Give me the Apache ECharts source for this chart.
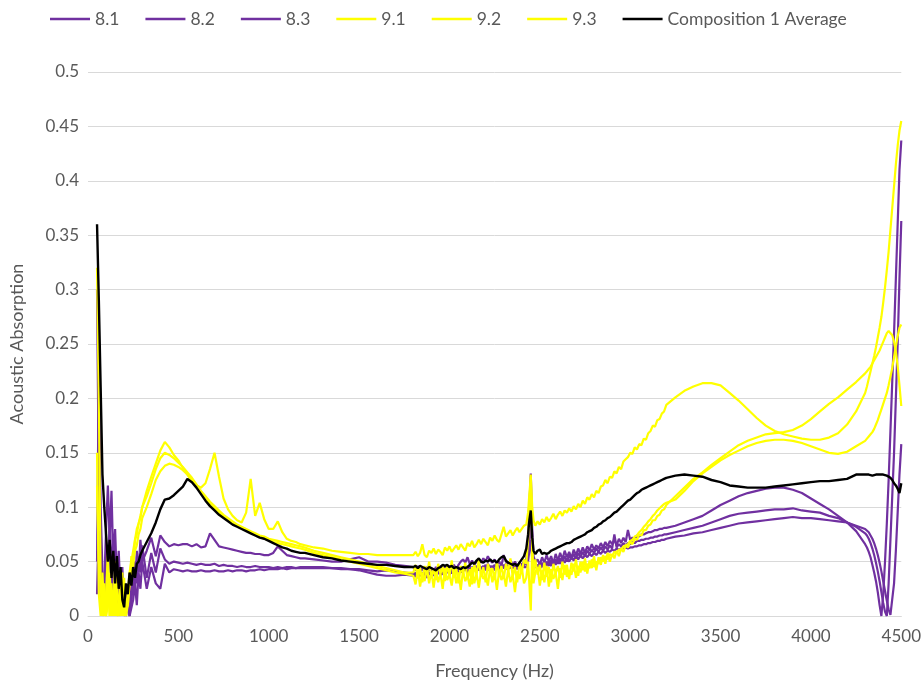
<!DOCTYPE html>
<html>
<head>
<meta charset="utf-8">
<script src="https://cdn.jsdelivr.net/npm/echarts@6/dist/echarts.min.js"></script>
<style>
html, body { margin: 0; padding: 0; background: #ffffff; }
#chart { width: 924px; height: 688px; }
</style>
</head>
<body>
<div id="chart"></div>
<script>
// Frequency grid (Hz) shared by every measurement
const freq = [
  50,60,70,80,90,100,110,120,130,140,150,160,170,180,190,200,210,220,230,240,250,260,270,280,290,300,
  325,350,375,400,425,450,475,500,525,550,575,600,625,650,675,700,725,750,775,800,825,850,875,900,925,950,975,1000,1025,1050,1075,1100,1125,1150,1175,1200,
  1250,1300,1350,1400,1450,1500,1550,1600,1650,1700,1750,
  1800,1812.5,1825,1837.5,1850,1862.5,1875,1887.5,1900,1912.5,
  1925,1937.5,1950,1962.5,1975,1987.5,2000,2012.5,2025,2037.5,
  2050,2062.5,2075,2087.5,2100,2112.5,2125,2137.5,2150,2162.5,
  2175,2187.5,2200,2212.5,2225,2237.5,2250,2262.5,2275,2287.5,
  2300,2312.5,2325,2337.5,2350,2362.5,2375,2387.5,2400,2412.5,
  2425,2435,2442,2450,2458,2465,2475,
  2487.5,2500,2512.5,2525,2537.5,2550,2562.5,2575,2587.5,2600,
  2612.5,2625,2637.5,2650,2662.5,2675,2687.5,2700,2712.5,2725,
  2737.5,2750,2762.5,2775,2787.5,2800,2812.5,2825,2837.5,2850,
  2862.5,2875,2887.5,2900,2912.5,2925,2937.5,2950,2962.5,2975,
  2987.5,3000,3012.5,3025,3037.5,3050,3062.5,3075,3087.5,3100,
  3112.5,3125,3137.5,3150,3162.5,3175,3187.5,3200,
  3250,3300,3350,3400,3450,3500,3550,3600,3650,3700,3750,3800,3850,3900,3950,4000,4050,4100,4150,4200,4250,4300,
  4310,4320,4330,4340,4350,4360,4370,4380,4390,4400,4410,4420,4430,4440,4450,4460,4470,4480,4490,4500
];

// Absorption coefficients, sample 8.1
const s81 = [
  0.30,0.12,0.05,0.01,0.03,0.08,0.12,0.07,0.115,0.05,0.08,0.03,0.06,0.02,0.045,0.0,0.02,0.005,0.03,0.01,0.045,0.025,0.06,0.04,0.07,0.05,
  0.06,0.072,0.055,0.074,0.068,0.064,0.066,0.065,0.066,0.066,0.064,0.066,0.063,0.064,0.076,0.07,0.064,0.063,0.062,0.061,0.06,0.059,0.058,0.058,0.057,0.057,0.056,0.056,0.058,0.064,0.06,0.056,0.055,0.054,0.053,0.053,
  0.052,0.051,0.05,0.05,0.052,0.054,0.05,0.05,0.049,0.047,0.046,
  0.045,0.042,0.046,0.041,0.044,0.04,0.045,0.042,0.043,0.04,
  0.045,0.042,0.046,0.043,0.045,0.041,0.046,0.044,0.047,0.043,
  0.047,0.05,0.052,0.049,0.054,0.048,0.051,0.047,0.05,0.052,
  0.049,0.053,0.05,0.055,0.051,0.049,0.052,0.047,0.05,0.046,
  0.056,0.05,0.048,0.051,0.047,0.05,0.046,0.049,0.047,0.05,
  0.052,0.07,0.1,0.131,0.08,0.055,0.05,
  0.052,0.047,0.054,0.049,0.056,0.05,0.055,0.048,0.057,0.051,
  0.058,0.052,0.06,0.054,0.059,0.053,0.061,0.056,0.062,0.057,
  0.063,0.058,0.064,0.06,0.066,0.061,0.065,0.062,0.067,0.063,
  0.068,0.064,0.069,0.066,0.07,0.065,0.071,0.067,0.072,0.068,
  0.079,0.07,0.072,0.071,0.074,0.073,0.075,0.075,0.076,0.077,
  0.077,0.078,0.079,0.079,0.08,0.08,0.081,0.081,
  0.083,0.086,0.089,0.092,0.097,0.102,0.106,0.11,0.113,0.115,0.117,0.118,0.118,0.116,0.113,0.108,0.103,0.098,0.092,0.086,0.078,0.066,
  0.063,0.059,0.054,0.047,0.04,0.032,0.022,0.01,0.0,0.02,0.05,0.085,0.125,0.17,0.215,0.26,0.31,0.36,0.41,0.437
];

// Sample 8.2
const s82 = [
  0.05,0.23,0.1,0.04,0.0,0.06,0.03,0.09,0.04,0.07,0.02,0.05,0.01,0.04,0.0,0.02,0.0,0.01,0.0,0.03,0.02,0.05,0.03,0.055,0.04,0.065,
  0.035,0.058,0.04,0.062,0.052,0.048,0.05,0.049,0.048,0.049,0.048,0.047,0.048,0.047,0.047,0.048,0.046,0.047,0.046,0.046,0.045,0.046,0.045,0.045,0.046,0.045,0.045,0.045,0.044,0.045,0.044,0.045,0.045,0.044,0.045,0.045,
  0.045,0.045,0.044,0.044,0.043,0.042,0.04,0.038,0.037,0.037,0.038,
  0.037,0.04,0.035,0.039,0.036,0.041,0.035,0.04,0.037,0.042,
  0.038,0.041,0.037,0.043,0.039,0.042,0.038,0.044,0.04,0.043,
  0.039,0.045,0.041,0.044,0.04,0.046,0.042,0.045,0.041,0.047,
  0.043,0.046,0.042,0.048,0.044,0.046,0.042,0.047,0.043,0.046,
  0.044,0.048,0.043,0.047,0.044,0.046,0.043,0.048,0.044,0.047,
  0.048,0.06,0.072,0.085,0.06,0.048,0.045,
  0.047,0.043,0.049,0.045,0.05,0.046,0.051,0.047,0.052,0.048,
  0.053,0.049,0.055,0.05,0.056,0.052,0.057,0.053,0.058,0.054,
  0.059,0.055,0.06,0.057,0.061,0.058,0.062,0.059,0.063,0.06,
  0.064,0.061,0.065,0.062,0.075,0.063,0.066,0.064,0.067,0.065,
  0.067,0.066,0.068,0.067,0.069,0.069,0.07,0.07,0.071,0.071,
  0.072,0.072,0.073,0.073,0.074,0.074,0.075,0.075,
  0.077,0.079,0.081,0.083,0.086,0.089,0.092,0.094,0.095,0.096,0.097,0.098,0.098,0.099,0.097,0.096,0.095,0.092,0.09,0.086,0.082,0.076,
  0.074,0.071,0.067,0.062,0.056,0.049,0.041,0.032,0.022,0.012,0.004,0.0,0.03,0.07,0.11,0.15,0.2,0.25,0.31,0.363
];

// Sample 8.3
const s83 = [
  0.02,0.09,0.02,0.0,0.04,0.02,0.06,0.01,0.05,0.0,0.03,0.01,0.04,0.0,0.02,0.0,0.0,0.01,0.0,0.0,0.015,0.03,0.01,0.04,0.025,0.05,
  0.025,0.045,0.03,0.025,0.048,0.04,0.043,0.042,0.041,0.042,0.041,0.041,0.042,0.041,0.041,0.042,0.041,0.041,0.042,0.041,0.042,0.042,0.041,0.042,0.042,0.043,0.042,0.043,0.043,0.043,0.044,0.043,0.044,0.044,0.044,0.044,
  0.044,0.044,0.044,0.043,0.043,0.043,0.042,0.041,0.042,0.041,0.04,
  0.039,0.036,0.041,0.037,0.04,0.036,0.042,0.038,0.041,0.037,
  0.042,0.039,0.043,0.038,0.042,0.04,0.044,0.039,0.043,0.041,
  0.045,0.04,0.044,0.042,0.046,0.041,0.045,0.043,0.046,0.042,
  0.045,0.043,0.047,0.042,0.046,0.044,0.047,0.043,0.046,0.044,
  0.047,0.043,0.046,0.044,0.047,0.045,0.046,0.044,0.047,0.045,
  0.045,0.05,0.06,0.07,0.052,0.046,0.047,
  0.044,0.048,0.045,0.049,0.046,0.05,0.046,0.051,0.047,0.052,
  0.048,0.052,0.049,0.053,0.05,0.054,0.051,0.055,0.052,0.056,
  0.053,0.056,0.054,0.057,0.055,0.058,0.056,0.059,0.057,0.06,
  0.058,0.06,0.059,0.061,0.06,0.062,0.061,0.062,0.062,0.063,
  0.062,0.063,0.063,0.064,0.064,0.065,0.065,0.066,0.066,0.067,
  0.067,0.068,0.068,0.069,0.069,0.07,0.07,0.071,
  0.073,0.074,0.076,0.077,0.079,0.081,0.083,0.085,0.086,0.087,0.088,0.089,0.09,0.091,0.09,0.09,0.089,0.088,0.087,0.086,0.083,0.08,
  0.079,0.077,0.074,0.071,0.067,0.062,0.056,0.049,0.041,0.032,0.023,0.014,0.006,0.001,0.0,0.03,0.06,0.095,0.13,0.158
];

// Sample 9.1
const s91 = [
  0.32,0.2,0.03,0.0,0.01,0.0,0.03,0.0,0.02,0.0,0.05,0.01,0.0,0.03,0.0,0.02,0.0,0.01,0.03,0.055,0.045,0.07,0.075,0.085,0.09,0.1,
  0.115,0.128,0.14,0.152,0.16,0.155,0.148,0.143,0.136,0.13,0.124,0.12,0.118,0.122,0.135,0.15,0.128,0.108,0.098,0.092,0.088,0.086,0.095,0.126,0.092,0.104,0.089,0.08,0.08,0.087,0.077,0.071,0.069,0.068,0.066,0.065,
  0.063,0.062,0.06,0.059,0.058,0.057,0.057,0.056,0.056,0.056,0.056,
  0.056,0.059,0.055,0.058,0.066,0.056,0.054,0.06,0.058,0.062,
  0.057,0.061,0.059,0.056,0.063,0.06,0.064,0.059,0.062,0.065,
  0.061,0.066,0.063,0.06,0.067,0.064,0.069,0.063,0.066,0.07,
  0.066,0.071,0.068,0.065,0.072,0.069,0.074,0.07,0.068,0.075,
  0.082,0.073,0.076,0.079,0.074,0.078,0.081,0.077,0.08,0.083,
  0.084,0.095,0.112,0.128,0.1,0.088,0.083,
  0.087,0.084,0.089,0.086,0.091,0.087,0.09,0.094,0.089,0.093,
  0.096,0.092,0.097,0.095,0.099,0.096,0.101,0.098,0.103,0.1,
  0.106,0.103,0.109,0.107,0.112,0.109,0.115,0.113,0.119,0.12,
  0.125,0.122,0.128,0.127,0.133,0.131,0.137,0.135,0.142,0.144,
  0.146,0.15,0.149,0.155,0.153,0.158,0.157,0.163,0.162,0.168,
  0.17,0.175,0.174,0.18,0.181,0.186,0.188,0.194,
  0.201,0.207,0.211,0.214,0.214,0.212,0.205,0.198,0.19,0.182,0.175,0.17,0.167,0.165,0.163,0.162,0.162,0.164,0.168,0.176,0.188,0.205,
  0.211,0.218,0.225,0.232,0.239,0.247,0.256,0.265,0.275,0.288,0.302,0.318,0.335,0.355,0.375,0.395,0.415,0.432,0.446,0.455
];

// Sample 9.2
const s92 = [
  0.15,0.02,0.0,0.04,0.0,0.02,0.06,0.0,0.03,0.0,0.04,0.0,0.0,0.02,0.0,0.035,0.0,0.02,0.04,0.05,0.06,0.07,0.08,0.085,0.092,0.1,
  0.11,0.122,0.135,0.145,0.15,0.148,0.145,0.141,0.137,0.132,0.127,0.121,0.115,0.11,0.105,0.101,0.097,0.093,0.09,0.087,0.084,0.082,0.08,0.078,0.076,0.074,0.073,0.071,0.07,0.069,0.068,0.067,0.066,0.065,0.064,0.063,
  0.06,0.058,0.056,0.054,0.052,0.05,0.048,0.046,0.044,0.042,0.04,
  0.04,0.047,0.035,0.044,0.031,0.046,0.038,0.05,0.036,0.043,
  0.033,0.048,0.039,0.045,0.032,0.047,0.037,0.051,0.035,0.044,
  0.03,0.046,0.039,0.049,0.034,0.043,0.029,0.047,0.038,0.052,
  0.036,0.045,0.031,0.048,0.04,0.044,0.033,0.05,0.037,0.046,
  0.034,0.048,0.041,0.053,0.036,0.045,0.031,0.049,0.04,0.052,
  0.048,0.07,0.095,0.13,0.06,0.04,0.052,
  0.038,0.047,0.033,0.049,0.036,0.045,0.031,0.048,0.039,0.046,
  0.035,0.05,0.038,0.047,0.034,0.049,0.041,0.052,0.037,0.05,
  0.042,0.053,0.039,0.051,0.044,0.055,0.042,0.054,0.047,0.056,
  0.048,0.058,0.05,0.057,0.053,0.06,0.055,0.062,0.059,0.065,
  0.063,0.068,0.066,0.071,0.07,0.075,0.074,0.079,0.079,0.083,
  0.084,0.088,0.088,0.092,0.093,0.097,0.098,0.102,
  0.11,0.118,0.126,0.132,0.139,0.145,0.151,0.157,0.161,0.164,0.167,0.168,0.169,0.171,0.175,0.181,0.188,0.195,0.201,0.208,0.215,0.223,
  0.225,0.227,0.229,0.232,0.235,0.238,0.241,0.244,0.248,0.252,0.256,0.26,0.262,0.262,0.258,0.252,0.243,0.23,0.212,0.193
];

// Sample 9.3
const s93 = [
  0.12,0.05,0.03,0.0,0.03,0.0,0.01,0.04,0.0,0.02,0.0,0.03,0.01,0.0,0.04,0.0,0.0,0.01,0.03,0.04,0.05,0.06,0.065,0.075,0.08,0.09,
  0.1,0.112,0.125,0.133,0.138,0.14,0.139,0.137,0.134,0.13,0.125,0.12,0.114,0.108,0.103,0.099,0.095,0.091,0.088,0.085,0.083,0.081,0.079,0.077,0.075,0.073,0.071,0.07,0.068,0.067,0.066,0.065,0.064,0.063,0.062,0.061,
  0.058,0.056,0.054,0.052,0.05,0.048,0.046,0.044,0.042,0.04,0.039,
  0.037,0.029,0.043,0.027,0.04,0.032,0.045,0.03,0.041,0.026,
  0.042,0.031,0.039,0.025,0.044,0.033,0.038,0.028,0.043,0.03,
  0.04,0.024,0.042,0.032,0.037,0.027,0.045,0.03,0.039,0.026,
  0.041,0.034,0.038,0.028,0.044,0.031,0.04,0.024,0.042,0.033,
  0.039,0.027,0.043,0.031,0.038,0.022,0.041,0.034,0.045,0.03,
  0.035,0.05,0.03,0.005,0.065,0.03,0.04,
  0.045,0.028,0.042,0.031,0.046,0.027,0.043,0.034,0.04,0.025,
  0.044,0.033,0.047,0.036,0.042,0.038,0.048,0.035,0.046,0.04,
  0.05,0.041,0.048,0.044,0.052,0.045,0.05,0.048,0.054,0.05,
  0.055,0.052,0.057,0.055,0.059,0.058,0.061,0.061,0.064,0.065,
  0.066,0.069,0.07,0.073,0.074,0.077,0.079,0.082,0.084,0.087,
  0.089,0.092,0.094,0.097,0.099,0.101,0.103,0.104,
  0.107,0.115,0.124,0.131,0.137,0.143,0.148,0.152,0.156,0.159,0.161,0.162,0.162,0.161,0.159,0.156,0.153,0.15,0.149,0.151,0.156,0.161,
  0.163,0.165,0.167,0.169,0.172,0.176,0.18,0.185,0.19,0.195,0.2,0.205,0.212,0.22,0.228,0.238,0.248,0.257,0.265,0.268
];

// Composition 1 average curve
const avg1 = [
  0.36,0.29,0.21,0.13,0.10,0.075,0.05,0.07,0.035,0.06,0.03,0.055,0.025,0.045,0.015,0.008,0.03,0.02,0.04,0.028,0.045,0.035,0.048,0.05,0.056,0.06,
  0.068,0.076,0.086,0.098,0.107,0.108,0.111,0.115,0.119,0.126,0.123,0.118,0.112,0.106,0.101,0.097,0.093,0.09,0.087,0.084,0.082,0.08,0.078,0.076,0.074,0.072,0.071,0.069,0.067,0.065,0.063,0.062,0.06,0.059,0.058,0.058,
  0.056,0.054,0.053,0.051,0.05,0.049,0.048,0.047,0.047,0.046,0.045,
  0.045,0.046,0.044,0.046,0.045,0.044,0.043,0.045,0.044,0.043,
  0.042,0.044,0.045,0.047,0.046,0.047,0.045,0.046,0.044,0.045,
  0.044,0.043,0.045,0.044,0.045,0.047,0.049,0.048,0.051,0.053,
  0.05,0.049,0.051,0.05,0.052,0.05,0.051,0.049,0.052,0.054,
  0.055,0.051,0.049,0.048,0.047,0.048,0.046,0.049,0.052,0.055,
  0.062,0.075,0.088,0.097,0.072,0.06,0.057,
  0.06,0.061,0.057,0.058,0.057,0.058,0.06,0.061,0.062,0.063,
  0.064,0.065,0.066,0.067,0.067,0.068,0.07,0.071,0.072,0.073,
  0.074,0.075,0.077,0.078,0.079,0.081,0.082,0.084,0.085,0.087,
  0.088,0.09,0.091,0.093,0.095,0.096,0.098,0.1,0.102,0.104,
  0.106,0.107,0.109,0.111,0.113,0.114,0.116,0.117,0.118,0.119,
  0.12,0.121,0.122,0.123,0.124,0.125,0.126,0.127,
  0.129,0.13,0.129,0.128,0.125,0.123,0.12,0.119,0.118,0.118,0.118,0.119,0.12,0.121,0.122,0.123,0.124,0.124,0.125,0.126,0.13,0.13,
  0.129,0.13,0.13,0.129,0.13,0.13,0.129,0.13,0.13,0.13,0.13,0.129,0.128,0.127,0.125,0.122,0.12,0.117,0.113,0.122
];

const seriesNames = ['8.1', '8.2', '8.3', '9.1', '9.2', '9.3', 'Composition 1 Average'];
const seriesValues = [s81, s82, s83, s91, s92, s93, avg1];
const seriesColors = ['#7030A0', '#7030A0', '#7030A0', '#FFFF00', '#FFFF00', '#FFFF00', '#000000'];

const xTicks = { min: 0, max: 4500, step: 500 };
const yTicks = { min: 0, max: 0.5, step: 0.05 };

const FONT = 'Lato, "Open Sans", sans-serif';
const TEXT = '#595959';
const GRIDLINE = '#d9d9d9';

const chart = echarts.init(document.getElementById('chart'), null, { renderer: 'canvas' });

chart.setOption({
  animation: false,
  backgroundColor: '#ffffff',
  textStyle: { fontFamily: FONT, color: TEXT },
  legend: {
    data: seriesNames,
    top: 5,
    left: 45,
    icon: 'rect',
    itemWidth: 40,
    itemHeight: 2.5,
    itemGap: 26,
    textStyle: { fontFamily: FONT, fontSize: 17.5, color: TEXT }
  },
  grid: { left: 88, right: 19, top: 72, bottom: 72, containLabel: false },
  xAxis: {
    type: 'value',
    min: xTicks.min,
    max: xTicks.max,
    interval: xTicks.step,
    name: 'Frequency (Hz)',
    nameLocation: 'middle',
    nameGap: 46,
    nameTextStyle: { fontFamily: FONT, fontSize: 18, color: TEXT },
    axisLine: { show: true, lineStyle: { color: GRIDLINE, width: 1 } },
    axisTick: { show: false },
    splitLine: { show: false },
    axisLabel: {
      fontFamily: FONT, fontSize: 17, color: TEXT, margin: 12,
      formatter: v => String(v)
    }
  },
  yAxis: {
    type: 'value',
    min: yTicks.min,
    max: yTicks.max,
    interval: yTicks.step,
    name: 'Acoustic Absorption',
    nameLocation: 'middle',
    nameGap: 62,
    nameTextStyle: { fontFamily: FONT, fontSize: 18, color: TEXT },
    axisLine: { show: false },
    axisTick: { show: false },
    splitLine: { show: true, lineStyle: { color: GRIDLINE, width: 1 } },
    axisLabel: {
      fontFamily: FONT, fontSize: 17, color: TEXT, margin: 9,
      formatter: v => String(parseFloat(v.toFixed(2)))
    }
  },
  series: seriesNames.map((name, k) => ({
    name: name,
    type: 'line',
    data: freq.map((f, i) => [f, seriesValues[k][i]]),
    symbol: 'none',
    showSymbol: false,
    smooth: false,
    clip: false,
    color: seriesColors[k],
    lineStyle: { color: seriesColors[k], width: k === 6 ? 2.4 : 2.2 },
    emphasis: { disabled: true },
    z: k === 6 ? 3 : 2
  }))
});
</script>
</body>
</html>
